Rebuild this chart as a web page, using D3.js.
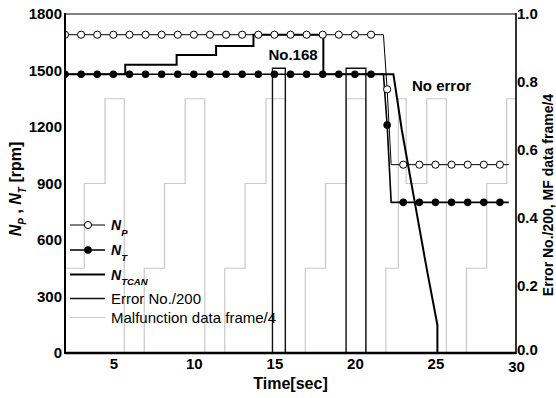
<!DOCTYPE html>
<html>
<head>
<meta charset="utf-8">
<script src="https://cdn.jsdelivr.net/npm/d3@7"></script>
<style>
  body { margin: 0; background: #fff; }
  svg { display: block; font-family: "Liberation Sans", Arial, sans-serif; }
</style>
</head>
<body>
<script>
/* time axis ticks */
var timeTicks = [5, 10, 15, 20, 25, 30];
var rpmTicks = [0, 300, 600, 900, 1200, 1500, 1800];
var ratioTicks = [0.0, 0.2, 0.4, 0.6, 0.8, 1.0];

/* N_P (open circles) */
var npTime = [2, 3, 4, 5, 6, 7, 8, 9, 10, 11, 12, 13, 14, 15, 16, 17, 18, 19, 20, 21, 21.77, 22, 22.25, 23, 24, 25, 26, 27, 28, 29, 29.55];
var npRpm = [1690, 1690, 1690, 1690, 1690, 1690, 1690, 1690, 1690, 1690, 1690, 1690, 1690, 1690, 1690, 1690, 1690, 1690, 1690, 1690, 1690, 1400, 1000, 1000, 1000, 1000, 1000, 1000, 1000, 1000, 1000];

/* N_T (filled circles) */
var ntTime = npTime;
var ntRpm = [1480, 1480, 1480, 1480, 1480, 1480, 1480, 1480, 1480, 1480, 1480, 1480, 1480, 1480, 1480, 1480, 1480, 1480, 1480, 1480, 1480, 1210, 800, 800, 800, 800, 800, 800, 800, 800, 800];

/* N_TCAN */
var tcanTime = [2, 5.74, 5.74, 8.93, 8.93, 11.38, 11.38, 13.7, 13.7, 18.04, 18.04, 22.39, 22.91, 24.47, 25.12, 25.12, 30];
var tcanRpm = [1480, 1480, 1530, 1530, 1582, 1582, 1630, 1630, 1690, 1690, 1480, 1480, 1184, 441, 149, 0, 0];

/* Error No./200 (step) */
var errTime = [2, 14.88, 15.68, 19.45, 20.68, 30];
var errVal = [0, 0.84, 0, 0.84, 0, 0];

/* Malfunction data frame/4 (step) */
var mfTime = [2, 3.2, 4.48, 5.68, 6.92, 8.18, 9.46, 10.68, 11.92, 13.18, 14.48, 15.68, 16.92, 18.18, 19.48, 20.68, 21.92, 22.7, 23.18, 24.46, 25.68, 26.92, 28.18, 29.42, 30];
var mfVal = [0.25, 0.5, 0.75, 0, 0.25, 0.5, 0.75, 0, 0.25, 0.5, 0.75, 0, 0.25, 0.5, 0.75, 0, 0.25, 0.75, 0.5, 0.75, 0, 0.25, 0.5, 0.75, 0.75];

var W = 556, H = 398;
var L = 65, R = 516, T = 14, B = 353;

var svg = d3.select("body").append("svg")
    .attr("width", W)
    .attr("height", H);

var x = d3.scaleLinear().domain([2, 30]).range([L, R]);
var yL = d3.scaleLinear().domain([0, 1800]).range([B, T]);
var yR = d3.scaleLinear().domain([0, 1]).range([B, T]);

svg.append("clipPath").attr("id", "plotClip")
  .append("rect")
    .attr("x", L).attr("y", T - 5)
    .attr("width", R - L).attr("height", B - T + 5);

var plot = svg.append("g").attr("clip-path", "url(#plotClip)");

function zip(a, b) {
    return a.map(function(v, i) { return [v, b[i]]; });
}

var lineL = d3.line()
    .x(function(d) { return x(d[0]); })
    .y(function(d) { return yL(d[1]); });
var stepR = d3.line()
    .curve(d3.curveStepAfter)
    .x(function(d) { return x(d[0]); })
    .y(function(d) { return yR(d[1]); });

/* malfunction frame */
plot.append("path")
    .datum(zip(mfTime, mfVal))
    .attr("fill", "none")
    .attr("stroke", "#c8c8c8")
    .attr("stroke-width", 1.2)
    .attr("d", stepR);

/* error number */
plot.append("path")
    .datum(zip(errTime, errVal))
    .attr("fill", "none")
    .attr("stroke", "#111")
    .attr("stroke-width", 1.4)
    .attr("d", stepR);

/* N_TCAN */
plot.append("path")
    .datum(zip(tcanTime, tcanRpm))
    .attr("fill", "none")
    .attr("stroke", "#000")
    .attr("stroke-width", 2)
    .attr("d", lineL);

/* N_P, N_T */
plot.append("path")
    .datum(zip(npTime, npRpm))
    .attr("fill", "none")
    .attr("stroke", "#000")
    .attr("stroke-width", 1)
    .attr("d", lineL);

plot.append("path")
    .datum(zip(ntTime, ntRpm))
    .attr("fill", "none")
    .attr("stroke", "#000")
    .attr("stroke-width", 1.6)
    .attr("d", lineL);

plot.selectAll("circle.np")
    .data(zip(npTime, npRpm).filter(function(d) { return Number.isInteger(d[0]); }))
    .enter().append("circle")
    .attr("class", "np")
    .attr("cx", function(d) { return x(d[0]); })
    .attr("cy", function(d) { return yL(d[1]); })
    .attr("r", 3.6)
    .attr("fill", "#fff")
    .attr("stroke", "#000")
    .attr("stroke-width", 1);

plot.selectAll("circle.nt")
    .data(zip(ntTime, ntRpm).filter(function(d) { return Number.isInteger(d[0]); }))
    .enter().append("circle")
    .attr("class", "nt")
    .attr("cx", function(d) { return x(d[0]); })
    .attr("cy", function(d) { return yL(d[1]); })
    .attr("r", 3.8)
    .attr("fill", "#000");

/* frame */
svg.append("line").attr("x1", L).attr("x2", R).attr("y1", T).attr("y2", T)
    .attr("stroke", "#808080").attr("stroke-width", 2);
svg.append("line").attr("x1", L).attr("x2", L).attr("y1", T - 1).attr("y2", B + 1)
    .attr("stroke", "#000").attr("stroke-width", 2);
svg.append("line").attr("x1", R).attr("x2", R).attr("y1", T - 1).attr("y2", B + 1)
    .attr("stroke", "#000").attr("stroke-width", 1.6);
svg.append("line").attr("x1", L).attr("x2", R).attr("y1", B).attr("y2", B)
    .attr("stroke", "#000").attr("stroke-width", 2.6);

/* left axis */
var gl = svg.append("g").attr("transform", "translate(" + L + ",0)");
gl.call(d3.axisLeft(yL).tickValues(d3.range(150, 1800, 300)).tickSize(-3).tickFormat(""));
gl.call(d3.axisLeft(yL).tickValues(rpmTicks).tickSize(0).tickPadding(3).tickFormat(d3.format("d")));
gl.selectAll(".domain").remove();

/* right axis */
var gr = svg.append("g").attr("transform", "translate(" + R + ",0)");
gr.call(d3.axisRight(yR).tickValues(d3.range(0.1, 1, 0.2)).tickSize(4).tickFormat(""));
gr.call(d3.axisRight(yR).tickValues(ratioTicks).tickSize(0).tickPadding(1).tickFormat(d3.format(".1f")));
gr.selectAll(".domain").remove();
gr.selectAll(".tick text").filter(function(d) { return d === 0; }).attr("dy", "0.1em");

/* bottom axis */
var gb = svg.append("g").attr("transform", "translate(0," + B + ")");
gb.call(d3.axisBottom(x).tickValues(timeTicks).tickSize(0).tickPadding(5).tickFormat(d3.format("d")));
gb.selectAll(".domain").remove();
gb.selectAll(".tick text").filter(function(d) { return d === 30; }).attr("dy", "0.95em");

svg.selectAll(".tick line").attr("stroke", "#000").attr("stroke-width", 1);
svg.selectAll(".tick text")
    .attr("fill", "#000")
    .style("font-size", "15px")
    .style("font-weight", "bold")
    .style("font-family", "'Liberation Sans', Arial, sans-serif");

/* axis titles */
svg.append("text")
    .attr("x", x(16))
    .attr("y", 389)
    .attr("text-anchor", "middle")
    .style("font-size", "16px")
    .style("font-weight", "bold")
    .text("Time[sec]");

var lt = svg.append("text")
    .attr("transform", "translate(21,189) rotate(-90)")
    .attr("text-anchor", "middle")
    .style("font-size", "16px")
    .style("font-weight", "bold");
lt.append("tspan").style("font-style", "italic").text("N");
lt.append("tspan").style("font-style", "italic").style("font-size", "10px").attr("dy", 5).text("P");
lt.append("tspan").attr("dy", -5).text(" , ");
lt.append("tspan").style("font-style", "italic").text("N");
lt.append("tspan").style("font-style", "italic").style("font-size", "10px").attr("dy", 5).text("T");
lt.append("tspan").attr("dy", -5).text(" [rpm]");

svg.append("text")
    .attr("transform", "translate(553,195) rotate(-90)")
    .attr("text-anchor", "middle")
    .style("font-size", "14px")
    .style("font-weight", "bold")
    .text("Error No./200, MF data frame/4");

/* annotations */
svg.append("text")
    .attr("x", 293).attr("y", 60)
    .attr("text-anchor", "middle")
    .style("font-size", "15px")
    .style("font-weight", "bold")
    .text("No.168");

svg.append("text")
    .attr("x", 412).attr("y", 91)
    .style("font-size", "15px")
    .style("font-weight", "bold")
    .text("No error");

/* legend */
var legend = [
    { y: 225, color: "#000", w: 1, marker: "open", name: "N", sub: "P" },
    { y: 250, color: "#000", w: 1.6, marker: "fill", name: "N", sub: "T" },
    { y: 274.5, color: "#000", w: 2, marker: null, name: "N", sub: "TCAN" },
    { y: 298.5, color: "#111", w: 1.5, marker: null, name: "Error No./200" },
    { y: 317.5, color: "#c8c8c8", w: 1.2, marker: null, name: "Malfunction data frame/4" }
];

var lg = svg.append("g");
legend.forEach(function(d) {
    lg.append("line")
        .attr("x1", 70).attr("x2", 105)
        .attr("y1", d.y).attr("y2", d.y)
        .attr("stroke", d.color)
        .attr("stroke-width", d.w);
    if (d.marker) {
        lg.append("circle")
            .attr("cx", 88).attr("cy", d.y)
            .attr("r", d.marker === "open" ? 3.6 : 3.8)
            .attr("fill", d.marker === "open" ? "#fff" : "#000")
            .attr("stroke", "#000")
            .attr("stroke-width", d.marker === "open" ? 1 : 0);
    }
    var t = lg.append("text")
        .attr("x", 111)
        .attr("y", d.y + 5.3);
    if (d.sub) {
        t.style("font-weight", "bold").style("font-style", "italic");
        t.append("tspan").style("font-size", "14px").text(d.name);
        t.append("tspan").style("font-size", "9.5px").attr("dy", 5.5).text(d.sub);
    } else {
        t.style("font-size", "15px").text(d.name);
    }
});
</script>
</body>
</html>
